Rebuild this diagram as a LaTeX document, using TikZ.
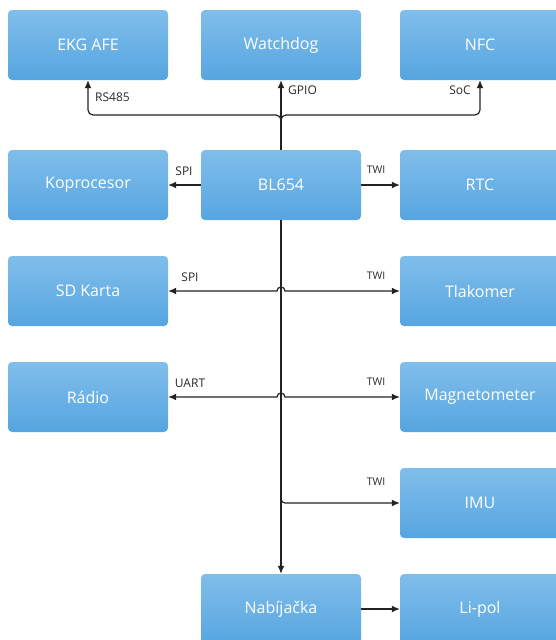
\documentclass[tikz,border=0pt]{standalone}
\usepackage{fontspec}
\setmainfont{Open Sans}
\usetikzlibrary{positioning,arrows.meta}
\definecolor{boxtop}{RGB}{128,190,234}
\definecolor{boxbot}{RGB}{86,165,225}
\definecolor{wire}{RGB}{34,34,34}
\definecolor{lbl}{RGB}{40,40,40}
\tikzset{
  flowarrow/.style={-{Latex[length=8pt,width=7pt]}, line width=1.2pt, draw=wire},
  twoarrow/.style={{Latex[length=8pt,width=7pt]}-{Latex[length=8pt,width=7pt]}, line width=1.2pt, draw=wire},
  block/.style={rounded corners=4pt, top color=boxtop, bottom color=boxbot, draw=none, minimum width=160pt, minimum height=70pt, align=center, text=white, font=\fontsize{16}{19}\selectfont},
  buslabel/.style={font=\fontsize{12}{14}\selectfont, text=lbl, inner sep=1pt},
  twilabel/.style={font=\fontsize{10.5}{12}\selectfont, text=lbl, inner sep=1pt}
}
\begin{document}
\begin{tikzpicture}[x=1pt, y=-1pt]
  \useasboundingbox (0,0) rectangle (555,640);
  % top row
  \node[block] (ekg) at (88,45) {EKG AFE};
  \node[block] (wdog) at (281,45) {Watchdog};
  \node[block] (nfc) at (480,45) {NFC};
  % second row
  \node[block] (kopro) at (88,185) {Koprocesor};
  \node[block] (bl) at (281,185) {BL654};
  \node[block] (rtc) at (480,185) {RTC};
  % sensors and peripherals
  \node[block] (sd) at (88,291) {SD Karta};
  \node[block] (tlak) at (480,291) {Tlakomer};
  \node[block] (radio) at (88,397) {Rádio};
  \node[block] (mag) at (480,397) {Magnetometer};
  \node[block] (imu) at (480,503) {IMU};
  \node[block] (nab) at (281,609) {Nabíjačka};
  \node[block] (lipol) at (480,609) {Li-pol};

  % upper bus
  \coordinate (split) at (281,115);
  \draw[flowarrow] (bl) -- (wdog);
  \draw[flowarrow, rounded corners=5pt] (bl.north) -- (split) -| (ekg.south);
  \draw[flowarrow, rounded corners=5pt] (bl.north) -- (split) -| (nfc.south);
  \node[buslabel, anchor=west] (l485) at (94,97) {RS485};
  \node[buslabel, anchor=west] (lgpio) at (287,90) {GPIO};
  \node[buslabel, anchor=east] (lsoc) at (472,90) {SoC};

  % second row links
  \draw[flowarrow] (bl) -- (kopro);
  \draw[flowarrow] (bl) -- (rtc);
  \node[buslabel] (lspi1) at (184,171) {SPI};
  \node[twilabel] (ltwi1) at (376,170) {TWI};

  % main trunk down
  \draw[flowarrow] (bl) -- (nab);
  \coordinate (j1) at (281,291);
  \coordinate (j2) at (281,397);
  \draw[twoarrow] (sd.east) -- ([xshift=-4pt]j1) arc[start angle=180, end angle=0, radius=4pt] -- (tlak.west);
  \draw[twoarrow] (radio.east) -- ([xshift=-4pt]j2) arc[start angle=180, end angle=0, radius=4pt] -- (mag.west);
  \draw[flowarrow, rounded corners=4pt] (bl.south) |- (imu.west);
  \draw[flowarrow] (nab) -- (lipol);
  \node[buslabel] (lspi2) at (190,277) {SPI};
  \node[twilabel] (ltwi2) at (376,276) {TWI};
  \node[buslabel] (luart) at (190,383) {UART};
  \node[twilabel] (ltwi3) at (376,382) {TWI};
  \node[twilabel] (ltwi4) at (376,482) {TWI};
\end{tikzpicture}
\end{document}
